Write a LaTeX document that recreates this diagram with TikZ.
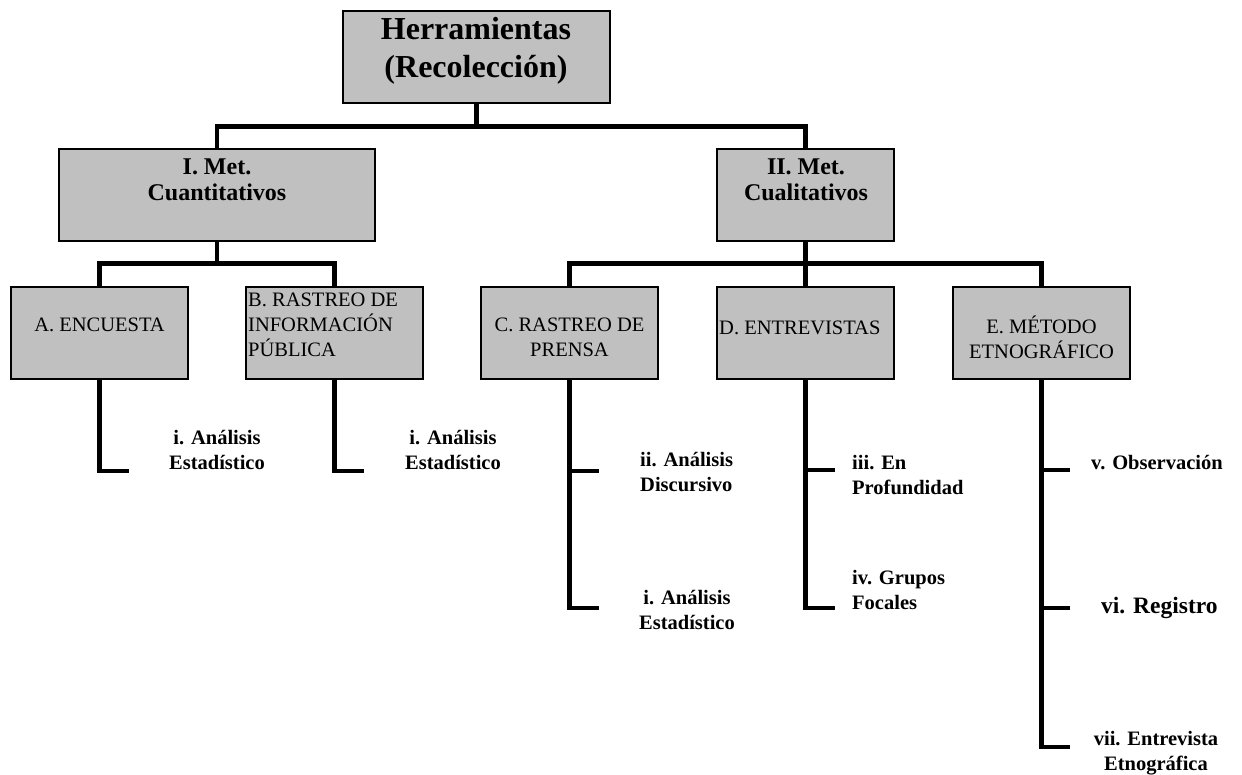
\documentclass[tikz,border=0pt]{standalone}
\usepackage{fontspec}
\setmainfont{Liberation Serif}
\usetikzlibrary{positioning}
\definecolor{boxgray}{RGB}{192,192,192}

\begin{document}
\begin{tikzpicture}[x=1pt, y=-1pt,
    box/.style={draw, fill=boxgray, line width=1.2pt, inner sep=0, minimum width=177, minimum height=92},
    conn/.style={line width=4.5pt},
    hd/.style={inner sep=0, align=center, font=\bfseries\fontsize{24}{26}\selectfont},
    txt/.style={inner sep=0, font=\fontsize{20.5}{25}\selectfont},
    leaf/.style={inner sep=0, font=\bfseries\fontsize{20.5}{24.5}\selectfont}]
    \useasboundingbox (0,0) rectangle (1242,775);

    \node[box, minimum width=267] (herr) at (476.5,57) {};
    \node[hd, font=\bfseries\fontsize{32}{38}\selectfont] (herr-t) at (476,51) {Herramientas\\(Recolección)};

    \node[box, minimum width=316] (cuant) at (217,195) {};
    \node[hd] (cuant-t) at (217,180) {I. Met.\\Cuantitativos};
    \node[box] (cual) at (805.5,195) {};
    \node[hd] (cual-t) at (806,180) {II. Met.\\Cualitativos};

    \node[box] (enc) at (99.5,333) {};
    \node[txt] (enc-t) at (99.5,325) {A. ENCUESTA};
    \node[box] (rinf) at (334.5,333) {};
    \node[txt, align=left, anchor=west] (rinf-t) at (248,325) {B. RASTREO DE\\INFORMACIÓN\\PÚBLICA};
    \node[box] (rpre) at (569.5,333) {};
    \node[txt, align=center] (rpre-t) at (569.5,337) {C. RASTREO DE\\PRENSA};
    \node[box] (entr) at (805.5,333) {};
    \node[txt, anchor=west] (entr-t) at (719,328) {D. ENTREVISTAS};
    \node[box] (etno) at (1041.5,333) {};
    \node[txt, align=center] (etno-t) at (1041.5,337) {E. MÉTODO\\ETNOGRÁFICO};

    \draw[conn] (herr.south) -- ++(0,23) -| (cuant.north);
    \draw[conn] (herr.south) -- ++(0,23) -| (cual.north);
    \draw[conn] (cuant.south) -- ++(0,22) -| (enc.north);
    \draw[conn] (cuant.south) -- ++(0,22) -| (rinf.north);
    \draw[conn] (cual.south) -- ++(0,22) -| (rpre.north);
    \draw[conn] (cual.south) -- (entr.north);
    \draw[conn] (cual.south) -- ++(0,22) -| (etno.north);

    \coordinate (a1) at (128.5,471);
    \coordinate (b1) at (364,471);
    \coordinate (c1) at (599,471);
    \coordinate (c2) at (599,608);
    \coordinate (d1) at (835,470);
    \coordinate (d2) at (835,608);
    \coordinate (e1) at (1070,470);
    \coordinate (e2) at (1070,608);
    \coordinate (e3) at (1070,747);

    \draw[conn] (enc.south) |- (a1);
    \draw[conn] (rinf.south) |- (b1);
    \draw[conn] (rpre.south) |- (c2);
    \draw[conn] (rpre.south |- c1) -- (c1);
    \draw[conn] (entr.south) |- (d2);
    \draw[conn] (entr.south |- d1) -- (d1);
    \draw[conn] (etno.south) |- (e3);
    \draw[conn] (etno.south |- e1) -- (e1);
    \draw[conn] (etno.south |- e2) -- (e2);

    \node[leaf, align=center] (a1-t) at (217,450) {i. Análisis\\Estadístico};
    \node[leaf, align=center] (b1-t) at (453,450) {i. Análisis\\Estadístico};
    \node[leaf, align=left, anchor=west] (c1-t) at (640,472) {ii. Análisis\\Discursivo};
    \node[leaf, align=center] (c2-t) at (687,610) {i. Análisis\\Estadístico};
    \node[leaf, align=left, anchor=west] (d1-t) at (852,475) {iii. En\\Profundidad};
    \node[leaf, align=left, anchor=west] (d2-t) at (852,590) {iv. Grupos\\Focales};
    \node[leaf, anchor=west] (e1-t) at (1091,463) {v. Observación};
    \node[leaf, anchor=west, font=\bfseries\fontsize{23.5}{28}\selectfont] (e2-t) at (1101,608) {vi. Registro};
    \node[leaf, align=center] (e3-t) at (1156,753) {vii. Entrevista\\Etnográfica};
\end{tikzpicture}
\end{document}
